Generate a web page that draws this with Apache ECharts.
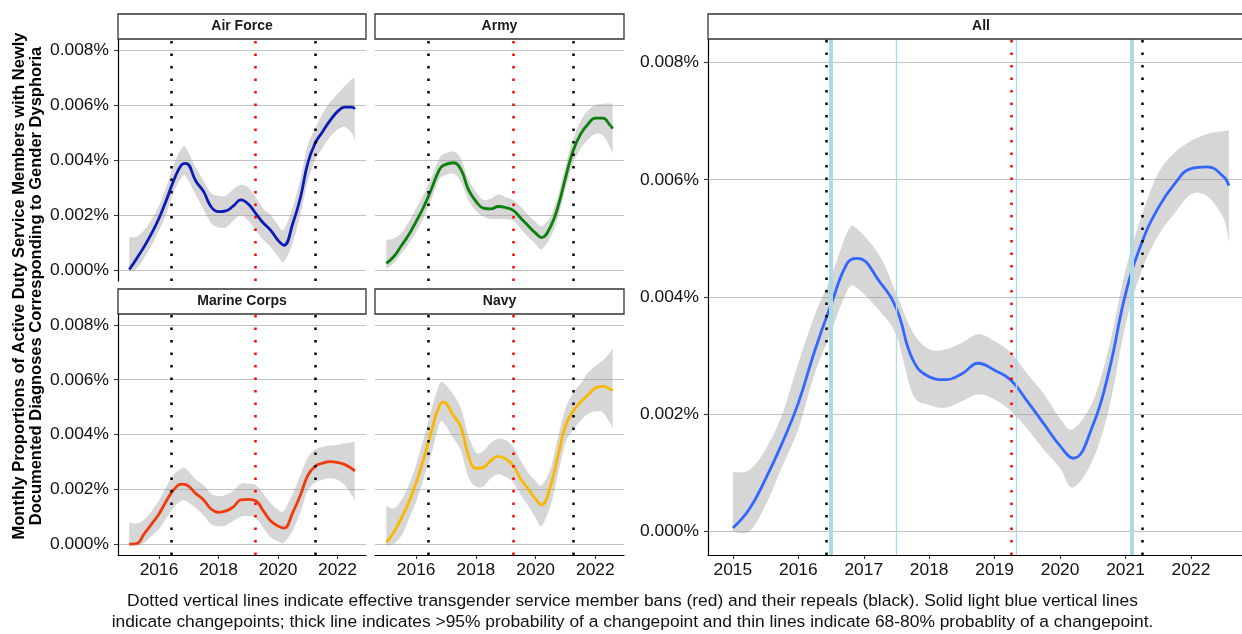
<!DOCTYPE html>
<html>
<head>
<meta charset="utf-8">
<script src="https://cdn.jsdelivr.net/npm/echarts@6/dist/echarts.min.js"></script>
<style>
  html, body { margin: 0; padding: 0; background: #fff; }
  #chart { width: 1242px; height: 634px; }
</style>
</head>
<body>
<div id="chart"></div>
<script>
  // values are in units of 0.001 %
  let years = [2015, 2015.25, 2015.5, 2015.75, 2016, 2016.25, 2016.5, 2016.75, 2016.9, 2017.25, 2017.5, 2017.75,
    2018, 2018.25, 2018.5, 2018.75, 2019, 2019.25, 2019.5, 2019.75, 2020, 2020.2, 2020.5, 2020.75,
    2021, 2021.25, 2021.5, 2021.75, 2022, 2022.25, 2022.5, 2022.58];

  let airForceMid = [0.02, 0.42, 0.85, 1.33, 1.88, 2.55, 3.27, 3.82, 3.88, 3.21, 2.85, 2.30, 2.12, 2.15, 2.33, 2.55, 2.40, 2.06, 1.72, 1.45, 1.08, 0.90, 1.70, 2.61, 3.88, 4.61, 5.03, 5.43, 5.76, 5.92, 5.92, 5.85];
  let airForceLow = [-0.05, 0.05, 0.45, 0.90, 1.45, 2.05, 2.85, 3.35, 3.40, 2.70, 2.20, 1.70, 1.55, 1.55, 1.80, 2.00, 1.80, 1.45, 1.10, 0.85, 0.50, 0.30, 1.00, 2.00, 3.20, 4.00, 4.45, 4.85, 5.10, 5.20, 4.95, 4.70];
  let airForceHigh = [1.19, 1.22, 1.45, 1.85, 2.35, 3.05, 3.85, 4.40, 4.45, 3.70, 3.25, 2.80, 2.70, 2.70, 2.95, 3.10, 3.00, 2.65, 2.25, 2.00, 1.65, 1.48, 2.30, 3.30, 4.55, 5.15, 5.70, 6.10, 6.40, 6.70, 6.95, 7.00];

  let armyMid = [0.24, 0.49, 0.88, 1.28, 1.77, 2.29, 2.92, 3.59, 3.80, 3.90, 3.65, 2.92, 2.50, 2.25, 2.22, 2.31, 2.27, 2.17, 1.89, 1.61, 1.34, 1.18, 1.58, 2.31, 3.35, 4.32, 4.93, 5.30, 5.52, 5.52, 5.26, 5.14];
  let armyLow = [0.05, 0.25, 0.60, 0.95, 1.40, 1.90, 2.55, 3.25, 3.42, 3.50, 3.20, 2.55, 2.15, 1.95, 1.85, 1.85, 1.85, 1.80, 1.50, 1.20, 0.95, 0.76, 1.20, 1.90, 2.95, 3.85, 4.40, 4.75, 4.95, 4.90, 4.45, 4.20];
  let armyHigh = [1.10, 1.15, 1.35, 1.75, 2.25, 2.75, 3.35, 4.00, 4.20, 4.30, 4.05, 3.30, 2.85, 2.55, 2.60, 2.75, 2.65, 2.55, 2.30, 2.00, 1.75, 1.60, 1.95, 2.70, 3.80, 4.75, 5.40, 5.80, 6.00, 6.05, 6.05, 6.05];

  let marineMid = [0.00, 0.02, 0.37, 0.73, 1.10, 1.58, 1.99, 2.19, 2.17, 1.83, 1.61, 1.28, 1.16, 1.21, 1.36, 1.61, 1.63, 1.58, 1.22, 0.85, 0.66, 0.58, 1.16, 1.77, 2.50, 2.84, 2.95, 3.01, 2.98, 2.90, 2.74, 2.66];
  let marineLow = [-0.05, -0.05, 0.05, 0.30, 0.55, 0.95, 1.35, 1.58, 1.57, 1.30, 1.05, 0.72, 0.65, 0.68, 0.85, 1.00, 1.02, 0.98, 0.60, 0.25, 0.10, 0.05, 0.50, 1.15, 1.95, 2.25, 2.35, 2.40, 2.35, 2.15, 1.75, 1.55];
  let marineHigh = [0.79, 0.75, 0.90, 1.20, 1.60, 2.10, 2.55, 2.75, 2.75, 2.35, 2.15, 1.85, 1.75, 1.80, 1.95, 2.20, 2.20, 2.15, 1.85, 1.50, 1.25, 1.22, 1.85, 2.50, 3.15, 3.45, 3.55, 3.60, 3.62, 3.68, 3.72, 3.75];

  let navyMid = [0.06, 0.43, 0.94, 1.52, 2.25, 3.11, 4.08, 4.99, 5.18, 4.69, 4.26, 3.23, 2.76, 2.80, 3.05, 3.20, 3.11, 2.86, 2.38, 2.01, 1.64, 1.43, 2.13, 3.23, 4.32, 4.84, 5.18, 5.44, 5.70, 5.76, 5.66, 5.59];
  let navyLow = [-0.05, 0.00, 0.30, 0.90, 1.55, 2.40, 3.25, 4.30, 4.45, 3.85, 3.40, 2.45, 2.10, 2.10, 2.40, 2.55, 2.45, 2.25, 1.80, 1.40, 0.95, 0.67, 1.40, 2.55, 3.70, 4.15, 4.50, 4.75, 4.85, 4.80, 4.40, 4.20];
  let navyHigh = [1.40, 1.30, 1.60, 2.15, 2.90, 3.85, 4.85, 5.75, 5.90, 5.45, 4.95, 3.95, 3.35, 3.40, 3.70, 3.85, 3.80, 3.55, 3.05, 2.60, 2.30, 2.15, 2.75, 3.90, 4.95, 5.50, 5.85, 6.25, 6.50, 6.70, 7.00, 7.15];

  let allMid = [0.06, 0.38, 0.90, 1.50, 2.19, 3.08, 3.87, 4.58, 4.66, 4.25, 3.80, 2.93, 2.64, 2.59, 2.69, 2.87, 2.75, 2.58, 2.22, 1.84, 1.46, 1.25, 1.81, 2.75, 4.05, 4.93, 5.52, 5.93, 6.19, 6.22, 6.05, 5.90];
  let allLow = [0.00, 0.00, 0.45, 1.10, 1.75, 2.69, 3.40, 4.11, 4.15, 3.75, 3.34, 2.34, 2.16, 2.11, 2.22, 2.34, 2.25, 2.05, 1.75, 1.40, 1.08, 0.75, 1.22, 2.11, 3.52, 4.46, 5.05, 5.43, 5.75, 5.72, 5.34, 4.93];
  let allHigh = [1.01, 1.05, 1.40, 1.99, 2.87, 3.69, 4.34, 5.11, 5.16, 4.69, 4.05, 3.40, 3.11, 3.11, 3.22, 3.37, 3.25, 3.05, 2.69, 2.35, 1.93, 1.75, 2.22, 3.16, 4.46, 5.40, 6.11, 6.46, 6.66, 6.78, 6.83, 6.85];

  // policy dates and changepoints
  let repealYears = [2016.42, 2021.26];
  let banYears = [2019.25];
  let thickChangepoints = [2016.49, 2021.09];
  let thinChangepoints = [2017.49, 2019.33];

  // tick labels
  let smallTickYears = [2016, 2018, 2020, 2022];
  let allTickYears = [2015, 2016, 2017, 2018, 2019, 2020, 2021, 2022];
  let yTicks = [0, 2, 4, 6, 8];

  let FONT = '"Liberation Sans", Arial, sans-serif';

  let panels = [
    {name: 'Air Force', mid: airForceMid, low: airForceLow, high: airForceHigh, color: '#0B1BB5',
      box: {left: 118, top: 39, width: 248, height: 242}, showX: false, showY: true, ticks: smallTickYears, xMax: 2022.96, cp: false},
    {name: 'Army', mid: armyMid, low: armyLow, high: armyHigh, color: '#0A800A',
      box: {left: 375, top: 39, width: 249, height: 242}, showX: false, showY: false, ticks: smallTickYears, xMax: 2022.96, cp: false},
    {name: 'Marine Corps', mid: marineMid, low: marineLow, high: marineHigh, color: '#EE3A0C',
      box: {left: 118, top: 314, width: 248, height: 241}, showX: true, showY: true, ticks: smallTickYears, xMax: 2022.96, cp: false},
    {name: 'Navy', mid: navyMid, low: navyLow, high: navyHigh, color: '#F8B800',
      box: {left: 375, top: 314, width: 249, height: 241}, showX: true, showY: false, ticks: smallTickYears, xMax: 2022.96, cp: false},
    {name: 'All', mid: allMid, low: allLow, high: allHigh, color: '#3366FF',
      box: {left: 708, top: 39, width: 534, height: 516}, showX: true, showY: true, ticks: allTickYears, xMax: 2022.78, cp: true}
  ];

  function pairs(xs, ys) {
    return xs.map(function (x, k) { return [x, ys[k]]; });
  }

  // catmull-rom through pixel points, as svg cubic segments
  function curve(pts) {
    let s = '';
    for (let k = 0; k < pts.length - 1; k++) {
      let p0 = pts[Math.max(k - 1, 0)], p1 = pts[k], p2 = pts[k + 1], p3 = pts[Math.min(k + 2, pts.length - 1)];
      let c1 = [p1[0] + (p2[0] - p0[0]) / 6, p1[1] + (p2[1] - p0[1]) / 6];
      let c2 = [p2[0] - (p3[0] - p1[0]) / 6, p2[1] - (p3[1] - p1[1]) / 6];
      s += ' C' + c1.join(',') + ' ' + c2.join(',') + ' ' + p2.join(',');
    }
    return s;
  }

  function bandItem(low, high) {
    return function (params, api) {
      if (params.dataIndex !== 0) return;
      let up = years.map(function (x, k) { return api.coord([x, high[k]]); });
      let dn = years.map(function (x, k) { return api.coord([x, low[k]]); }).reverse();
      let d = 'M' + up[0].join(',') + curve(up) + ' L' + dn[0].join(',') + curve(dn) + ' Z';
      return {type: 'path', shape: {pathData: d}, style: {fill: 'rgba(153,153,153,0.4)'}};
    };
  }

  let grids = [], xAxes = [], yAxes = [], series = [], graphics = [];

  panels.forEach(function (p, i) {
    grids.push({left: p.box.left, top: p.box.top, width: p.box.width, height: p.box.height, outerBoundsMode: 'none', containLabel: false});

    xAxes.push({
      type: 'value', gridIndex: i, min: 2014.62, max: p.xMax,
      axisLine: {show: p.showX, onZero: false, lineStyle: {color: '#000', width: 1.2}},
      axisTick: {show: p.showX, customValues: p.ticks, length: 4, lineStyle: {color: '#333', width: 1.1}},
      axisLabel: {show: p.showX, customValues: p.ticks, margin: 7, fontSize: 17.4, fontFamily: FONT, color: '#111',
        formatter: function (v) { return String(v); }},
      splitLine: {show: false}
    });

    yAxes.push({
      type: 'value', gridIndex: i, min: -0.4, max: 8.4,
      axisLine: {show: p.showY, onZero: false, lineStyle: {color: '#000', width: 1.2}},
      axisTick: {show: p.showY, customValues: yTicks, length: 4, lineStyle: {color: '#333', width: 1.1}},
      axisLabel: {show: p.showY, customValues: yTicks, margin: 9, fontSize: 17.4, fontFamily: FONT, color: '#111',
        formatter: function (v) { return (v / 1000).toFixed(3) + '%'; }},
      splitLine: {show: true, lineStyle: {color: '#C2C2C2', width: 1.1}}
    });

    let dots = [];
    repealYears.forEach(function (y) {
      dots.push({xAxis: y, lineStyle: {color: '#000', type: [2.5, 10], width: 2.5}});
    });
    banYears.forEach(function (y) {
      dots.push({xAxis: y, lineStyle: {color: '#FF0000', type: [2.5, 10], width: 2.5}});
    });
    if (p.cp) {
      thickChangepoints.forEach(function (y) {
        dots.push({xAxis: y, lineStyle: {color: '#ADD8E6', type: 'solid', width: 4}});
      });
      thinChangepoints.forEach(function (y) {
        dots.push({xAxis: y, lineStyle: {color: '#ADD8E6', type: 'solid', width: 1.3}});
      });
    }

    // vertical reference lines (under the ribbon)
    series.push({
      name: p.name + ' refs', type: 'line', xAxisIndex: i, yAxisIndex: i,
      symbol: 'none', silent: true, z: 1,
      data: pairs(years, p.mid),
      lineStyle: {opacity: 0},
      markLine: {silent: true, symbol: ['none', 'none'], label: {show: false}, data: dots}
    });
    // confidence ribbon
    series.push({
      name: p.name + ' band', type: 'custom', xAxisIndex: i, yAxisIndex: i,
      coordinateSystem: 'cartesian2d', silent: true, clip: true, z: 2,
      data: years.map(function (x, k) { return [x, p.low[k], p.high[k]]; }),
      encode: {x: 0, y: [1, 2]},
      renderItem: bandItem(p.low, p.high)
    });
    series.push({
      name: p.name, type: 'line', xAxisIndex: i, yAxisIndex: i,
      smooth: 0.45, symbol: 'none', silent: true, z: 3,
      data: pairs(years, p.mid),
      lineStyle: {color: p.color, width: 2.8}
    });

    // facet strip
    let stripW = p.cp ? 560 : p.box.width;
    graphics.push({
      type: 'rect', silent: true, z: 10,
      shape: {x: p.box.left, y: p.box.top - 25, width: stripW, height: 25},
      style: {fill: '#fff', stroke: '#333', lineWidth: 1.3}
    });
    graphics.push({
      type: 'text', silent: true, z: 11,
      x: p.box.left + (p.cp ? 273 : p.box.width / 2), y: p.box.top - 12.5,
      style: {text: p.name, font: 'bold 14px ' + FONT, fill: '#1a1a1a', textAlign: 'center', textVerticalAlign: 'middle'}
    });
  });

  graphics.push({
    type: 'text', silent: true, x: 28, y: 286, rotation: Math.PI / 2,
    style: {
      text: 'Monthly Proportions of Active Duty Service Members with Newly\nDocumented Diagnoses Corresponding to Gender Dysphoria',
      font: 'bold 16.5px ' + FONT, fill: '#000', textAlign: 'center', textVerticalAlign: 'middle', lineHeight: 17
    }
  });
  graphics.push({
    type: 'text', silent: true, x: 632.5, y: 612,
    style: {
      text: 'Dotted vertical lines indicate effective transgender service member bans (red) and their repeals (black). Solid light blue vertical lines\nindicate changepoints; thick line indicates >95% probability of a changepoint and thin lines indicate 68-80% probablity of a changepoint.',
      font: '17.4px ' + FONT, fill: '#111', textAlign: 'center', textVerticalAlign: 'middle', lineHeight: 21
    }
  });

  let chart = echarts.init(document.getElementById('chart'));
  chart.setOption({
    animation: false,
    backgroundColor: '#fff',
    grid: grids,
    xAxis: xAxes,
    yAxis: yAxes,
    series: series,
    graphic: graphics
  });
</script>
</body>
</html>
